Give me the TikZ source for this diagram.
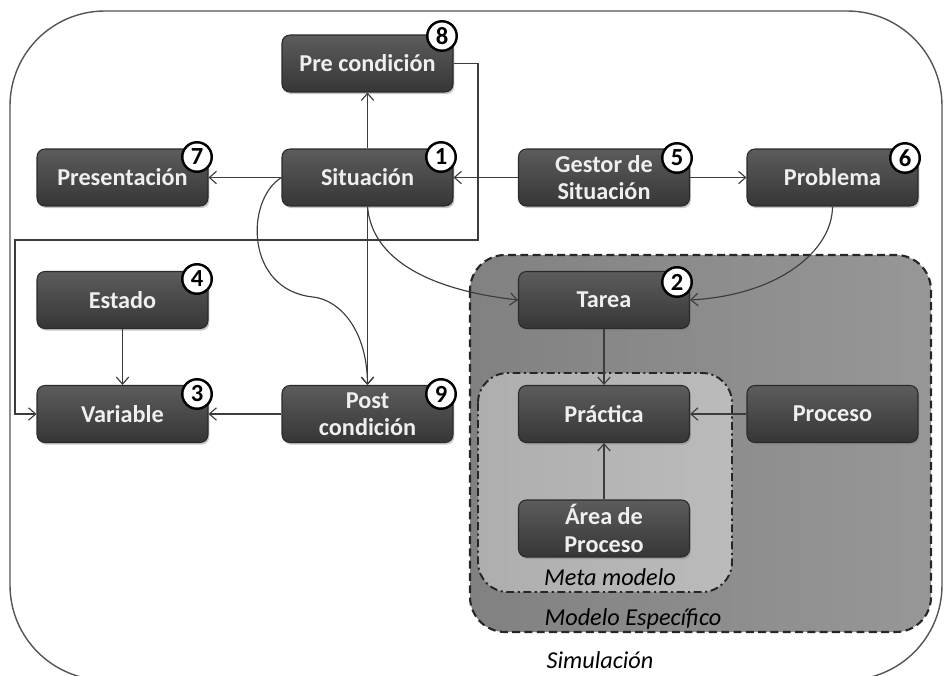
\documentclass[tikz,border=0pt]{standalone}
\usepackage{fontspec}
\setmainfont{Carlito}
\usetikzlibrary{arrows.meta,shadows}

\definecolor{boxtop}{HTML}{5C5C5C}
\definecolor{boxbot}{HTML}{363636}
\definecolor{boxline}{HTML}{2A2A2A}
\definecolor{boxtext}{HTML}{EFEFEF}
\definecolor{framecol}{HTML}{555555}
\definecolor{linecol}{HTML}{3C3C3C}
\definecolor{specleft}{HTML}{818181}
\definecolor{specright}{HTML}{979797}
\definecolor{metaleft}{HTML}{AEAEAE}
\definecolor{metaright}{HTML}{BBBBBB}

\begin{document}
\begin{tikzpicture}[x=0.02cm,y=-0.02cm,
  entity/.style={rectangle, rounded corners=4.5pt, minimum width=3.42cm,
    minimum height=1.14cm, inner sep=0pt, top color=boxtop, bottom color=boxbot,
    draw=boxline, line width=0.6pt, text=boxtext, align=center,
    font=\fontsize{13.8}{15.5}\selectfont\bfseries,
    drop shadow={shadow xshift=0.8pt, shadow yshift=-1.2pt, opacity=0.45}},
  badge/.style={circle, draw=black, line width=1.4pt, fill=white,
    minimum size=0.59cm, inner sep=0pt, font=\fontsize{14}{14}\selectfont\bfseries},
  conn/.style={draw=linecol, line width=0.65pt,
    -{Straight Barb[length=4pt,width=7pt]}},
  grouplabel/.style={font=\fontsize{13.8}{15}\selectfont\itshape, text=black}]

\useasboundingbox (0,0) rectangle (944,676);

% outer Simulación frame, running past the page edge on the right and bottom
\begin{scope}
  \clip (0,0) rectangle (944,676);
  \draw[framecol, line width=0.8pt, rounded corners=54pt] (10,11) rectangle (942,680);
\end{scope}

% Modelo Específico and Meta modelo groups
\draw[black!85, line width=1.2pt, dash pattern=on 4.5pt off 2.5pt, rounded corners=20pt,
  left color=specleft, right color=specright] (470,255) rectangle (931,632);
\draw[black!85, line width=1.1pt, dash pattern=on 4.5pt off 2pt on 1.2pt off 2pt,
  rounded corners=17pt, left color=metaleft, right color=metaright] (478,373) rectangle (732,592);

\node[grouplabel] (lmeta) at (610,577) {Meta modelo};
\node[grouplabel] (lspec) at (633,619) {Modelo Específico};
\node[grouplabel] (lsim)  at (600,660) {Simulación};

% entities
\node[entity] (pre)   at (367.5,63.5)  {Pre condición};
\node[entity] (pres)  at (122.5,177.5) {Presentación};
\node[entity] (sit)   at (367.5,177.5) {Situación};
\node[entity] (gest)  at (604,177.5)   {Gestor de\\Situación};
\node[entity] (prob)  at (832.5,177.5) {Problema};
\node[entity] (est)   at (122.5,300)   {Estado};
\node[entity] (tarea) at (604,300)     {Tarea};
\node[entity] (var)   at (122.5,414)   {Variable};
\node[entity] (post)  at (367.5,414)   {Post\\condición};
\node[entity] (prac)  at (604,414)     {Práctica};
\node[entity] (proc)  at (832.5,414)   {Proceso};
\node[entity] (area)  at (604,528.5)   {Área de\\Proceso};

% connectors
\coordinate (loopR) at (478,240);
\coordinate (loopL) at (15,414);
\coordinate (sbend) at (313,297);

\draw[conn] (sit.north) -- (pre.south);
\draw[conn] (sit.west) -- (pres.east);
\draw[conn] (gest.west) -- (sit.east);
\draw[conn] (gest.east) -- (prob.west);
\draw[conn] (pre.east) -| (loopR) -| (loopL) -- (var.west);
\draw[conn] (sit.south) -- (post.north);
\draw[conn] (sit.west) .. controls (245,200) and (245,290) .. (sbend)
                       .. controls (340,300) and (367,330) .. (post.north);
\draw[conn] (sit.south) .. controls (372,260) and (430,290) .. (tarea.west);
\draw[conn] (prob.south) .. controls (832.5,250) and (780,295) .. (tarea.east);
\draw[conn] (tarea.south) -- (prac.north);
\draw[conn] (proc.west) -- (prac.east);
\draw[conn] (area.north) -- (prac.south);
\draw[conn] (est.south) -- (var.north);
\draw[conn] (post.west) -- (var.east);

% numbered badges
\node[badge] (b8) at (442,36)  {8};
\node[badge] (b7) at (197,157) {7};
\node[badge] (b1) at (441,157) {1};
\node[badge] (b5) at (677,158) {5};
\node[badge] (b6) at (905,158) {6};
\node[badge] (b4) at (197,279) {4};
\node[badge] (b2) at (677,282) {2};
\node[badge] (b3) at (197,394) {3};
\node[badge] (b9) at (441,394) {9};

\end{tikzpicture}
\end{document}
